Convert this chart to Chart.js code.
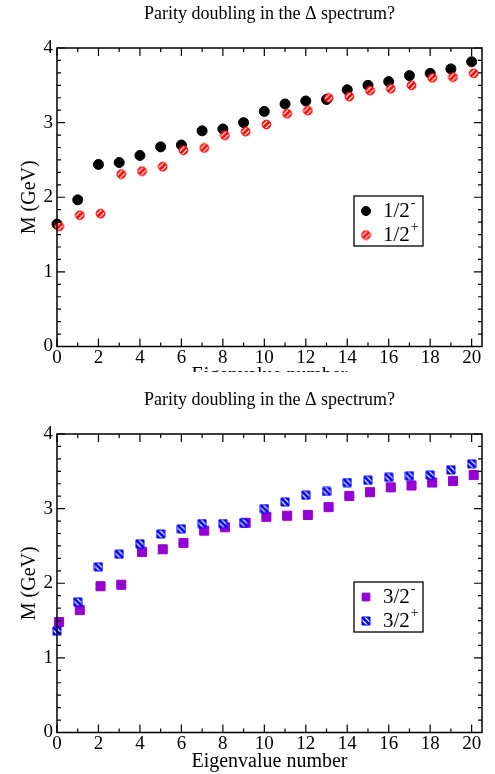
<!DOCTYPE html>
<html>
<head>
<meta charset="utf-8">
<script src="https://cdn.jsdelivr.net/npm/chart.js@4/dist/chart.umd.min.js"></script>
<style>
  body { margin: 0; background: #fff; }
  #topWrap { position: absolute; left: 0; top: 0; width: 495px; height: 372px; overflow: hidden; }
  #bottomWrap { position: absolute; left: 0; top: 386px; width: 495px; height: 388px; }
  .box { position: relative; width: 495px; height: 388px; }
</style>
</head>
<body>
<div id="topWrap"><div class="box"><canvas id="halfChart"></canvas></div></div>
<div id="bottomWrap"><div class="box"><canvas id="threeHalfChart"></canvas></div></div>
<script>
// eigenvalue numbers (the positive-parity / negative 3/2 sets sit a little to the right)
const eigenNumber = [0, 1, 2, 3, 4, 5, 6, 7, 8, 9, 10, 11, 12, 13, 14, 15, 16, 17, 18, 19, 20];
const eigenNumberShifted = [0.1, 1.1, 2.1, 3.1, 4.1, 5.1, 6.1, 7.1, 8.1, 9.1, 10.1, 11.1, 12.1, 13.1, 14.1, 15.1, 16.1, 17.1, 18.1, 19.1, 20.1];

// masses in GeV
const halfMinus = [1.64, 1.965, 2.44, 2.465, 2.56, 2.675, 2.70, 2.89, 2.915, 3.0, 3.15, 3.25, 3.29, 3.31, 3.44, 3.50, 3.55, 3.63, 3.66, 3.72, 3.815];
const halfPlus = [1.61, 1.76, 1.78, 2.31, 2.35, 2.41, 2.63, 2.66, 2.83, 2.88, 2.975, 3.12, 3.16, 3.33, 3.35, 3.43, 3.455, 3.50, 3.60, 3.61, 3.66];
const threeHalfMinus = [1.48, 1.64, 1.96, 1.98, 2.42, 2.455, 2.54, 2.705, 2.75, 2.81, 2.89, 2.905, 2.915, 3.02, 3.17, 3.22, 3.285, 3.31, 3.35, 3.37, 3.45];
const threeHalfPlus = [1.36, 1.75, 2.22, 2.39, 2.53, 2.66, 2.73, 2.80, 2.80, 2.81, 3.0, 3.09, 3.18, 3.23, 3.35, 3.38, 3.42, 3.44, 3.45, 3.52, 3.60];

const xTickValues = [0, 2, 4, 6, 8, 10, 12, 14, 16, 18, 20];
const yTickValues = [0, 1, 2, 3, 4];

const serif = "'Liberation Serif', 'Times New Roman', serif";
Chart.defaults.font.family = serif;
Chart.defaults.color = '#000';

// small hatched marker images, like the grace patterns
function hatchedMarker(shape, color, slash) {
  const c = document.createElement('canvas');
  const s = shape === 'circle' ? 11 : 10;
  c.width = s;
  c.height = s;
  const g = c.getContext('2d');
  const m = s / 2;
  const outline = () => {
    g.beginPath();
    if (shape === 'circle') g.arc(m, m, 4.4, 0, Math.PI * 2);
    else g.rect(1, 1, s - 2, s - 2);
  };
  outline();
  g.fillStyle = color;
  g.fill();
  g.save();
  g.clip();
  const d = slash ? [Math.SQRT1_2, -Math.SQRT1_2] : [Math.SQRT1_2, Math.SQRT1_2];
  const n = [-d[1], d[0]];
  g.strokeStyle = '#fff';
  g.lineWidth = 1.3;
  g.beginPath();
  for (const o of [-2, 2]) {
    const cx = m + o * n[0], cy = m + o * n[1];
    g.moveTo(cx - 10 * d[0], cy - 10 * d[1]);
    g.lineTo(cx + 10 * d[0], cy + 10 * d[1]);
  }
  g.stroke();
  g.restore();
  outline();
  g.strokeStyle = color;
  g.lineWidth = 1;
  g.stroke();
  return c;
}

const redHatch = hatchedMarker('circle', '#ff0000', true);
const blueHatch = hatchedMarker('square', '#0000ff', false);

const frameTicks = {
  id: 'frameTicks',
  afterDraw(chart, args, opts) {
    const { ctx, chartArea: a, scales: { x, y } } = chart;
    ctx.save();
    ctx.strokeStyle = '#000';
    ctx.lineWidth = 1.5;
    ctx.strokeRect(a.left, a.top, a.right - a.left, a.bottom - a.top);

    ctx.lineWidth = 1.2;
    ctx.beginPath();
    for (let v = 0; v <= 20; v++) {
      const px = x.getPixelForValue(v);
      const len = v % 2 === 0 ? 8 : 4;
      ctx.moveTo(px, a.bottom); ctx.lineTo(px, a.bottom - len);
      ctx.moveTo(px, a.top); ctx.lineTo(px, a.top + len);
    }
    for (let k = 0; k <= 24; k++) {
      const py = y.getPixelForValue(k / 6);
      const len = k % 6 === 0 ? 8 : 4;
      ctx.moveTo(a.left, py); ctx.lineTo(a.left + len, py);
      ctx.moveTo(a.right, py); ctx.lineTo(a.right - len, py);
    }
    ctx.stroke();

    // legend box
    const box = opts.box;
    ctx.lineWidth = 1.3;
    ctx.strokeRect(box.left, box.top, box.width, box.height);
    opts.items.forEach((it, i) => {
      const ry = box.top + 15 + i * 24;
      ctx.fillStyle = it.color;
      ctx.strokeStyle = it.color;
      ctx.lineWidth = 1;
      Chart.helpers.drawPoint(ctx, { pointStyle: it.style, radius: it.radius, borderWidth: 1, rotation: 0 }, box.left + 12, ry);
      ctx.fillStyle = '#000';
      ctx.textBaseline = 'middle';
      ctx.textAlign = 'left';
      ctx.font = '21px ' + serif;
      ctx.fillText(it.base, box.left + 29, ry);
      const w = ctx.measureText(it.base).width;
      ctx.font = '14px ' + serif;
      ctx.fillText(it.sup, box.left + 30 + w, ry - 8);
    });
    ctx.restore();
  }
};

function points(xs, ys) {
  return xs.map((v, i) => ({ x: v, y: ys[i] }));
}

function makeChart(id, datasets, legendItems) {
  return new Chart(document.getElementById(id), {
    type: 'scatter',
    data: { datasets },
    options: {
      responsive: true,
      maintainAspectRatio: false,
      animation: false,
      layout: { padding: { left: 0, right: 13, top: 0, bottom: 0 } },
      plugins: {
        legend: { display: false },
        tooltip: { enabled: false },
        title: {
          display: true,
          text: 'Parity doubling in the \u0394 spectrum?',
          fullSize: false,
          color: '#000',
          font: { size: 18, weight: 'normal' },
          padding: { top: 3, bottom: 23.4 }
        },
        frameTicks: {
          box: { left: 354, top: 196, width: 69, height: 50 },
          items: legendItems
        }
      },
      scales: {
        x: {
          type: 'linear',
          min: 0,
          max: 20.5,
          grid: { display: false, drawTicks: false },
          border: { display: false },
          ticks: {
            stepSize: 2,
            includeBounds: false,
            autoSkip: false,
            maxRotation: 0,
            padding: 0,
            font: { size: 19 },
            callback: v => (xTickValues.includes(v) ? String(v) : '')
          },
          title: {
            display: true,
            text: 'Eigenvalue number',
            font: { size: 20 },
            padding: { top: 0, bottom: 0 }
          },
          afterFit(s) { s.height = 41.5; }
        },
        y: {
          min: 0,
          max: 4,
          grid: { display: false, drawTicks: false },
          border: { display: false },
          ticks: {
            stepSize: 1,
            padding: 4,
            font: { size: 19 },
            callback: v => (yTickValues.includes(v) ? String(v) : '')
          },
          title: {
            display: true,
            text: 'M (GeV)',
            font: { size: 20 },
            padding: { top: 17.5, bottom: 0 }
          },
          afterFit(s) { s.width = 57; }
        }
      }
    },
    plugins: [frameTicks]
  });
}

makeChart('halfChart', [
  {
    label: '1/2+',
    data: points(eigenNumberShifted, halfPlus),
    pointStyle: redHatch,
    pointRadius: 5,
    clip: false,
    order: 0
  },
  {
    label: '1/2-',
    data: points(eigenNumber, halfMinus),
    pointStyle: 'circle',
    pointRadius: 5,
    backgroundColor: '#000',
    borderColor: '#000',
    borderWidth: 1,
    clip: false,
    order: 1
  }
], [
  { style: 'circle', radius: 4.5, color: '#000', base: '1/2', sup: '-' },
  { style: redHatch, radius: 5, color: '#ff0000', base: '1/2', sup: '+' }
]);

makeChart('threeHalfChart', [
  {
    label: '3/2+',
    data: points(eigenNumber, threeHalfPlus),
    pointStyle: blueHatch,
    pointRadius: 5,
    clip: false,
    order: 0
  },
  {
    label: '3/2-',
    data: points(eigenNumberShifted, threeHalfMinus),
    pointStyle: 'rect',
    pointRadius: 6.4,
    backgroundColor: '#9400d3',
    borderColor: '#9400d3',
    borderWidth: 1,
    clip: false,
    order: 1
  }
], [
  { style: 'rect', radius: 5.5, color: '#9400d3', base: '3/2', sup: '-' },
  { style: blueHatch, radius: 5, color: '#0000ff', base: '3/2', sup: '+' }
]);
</script>
</body>
</html>
